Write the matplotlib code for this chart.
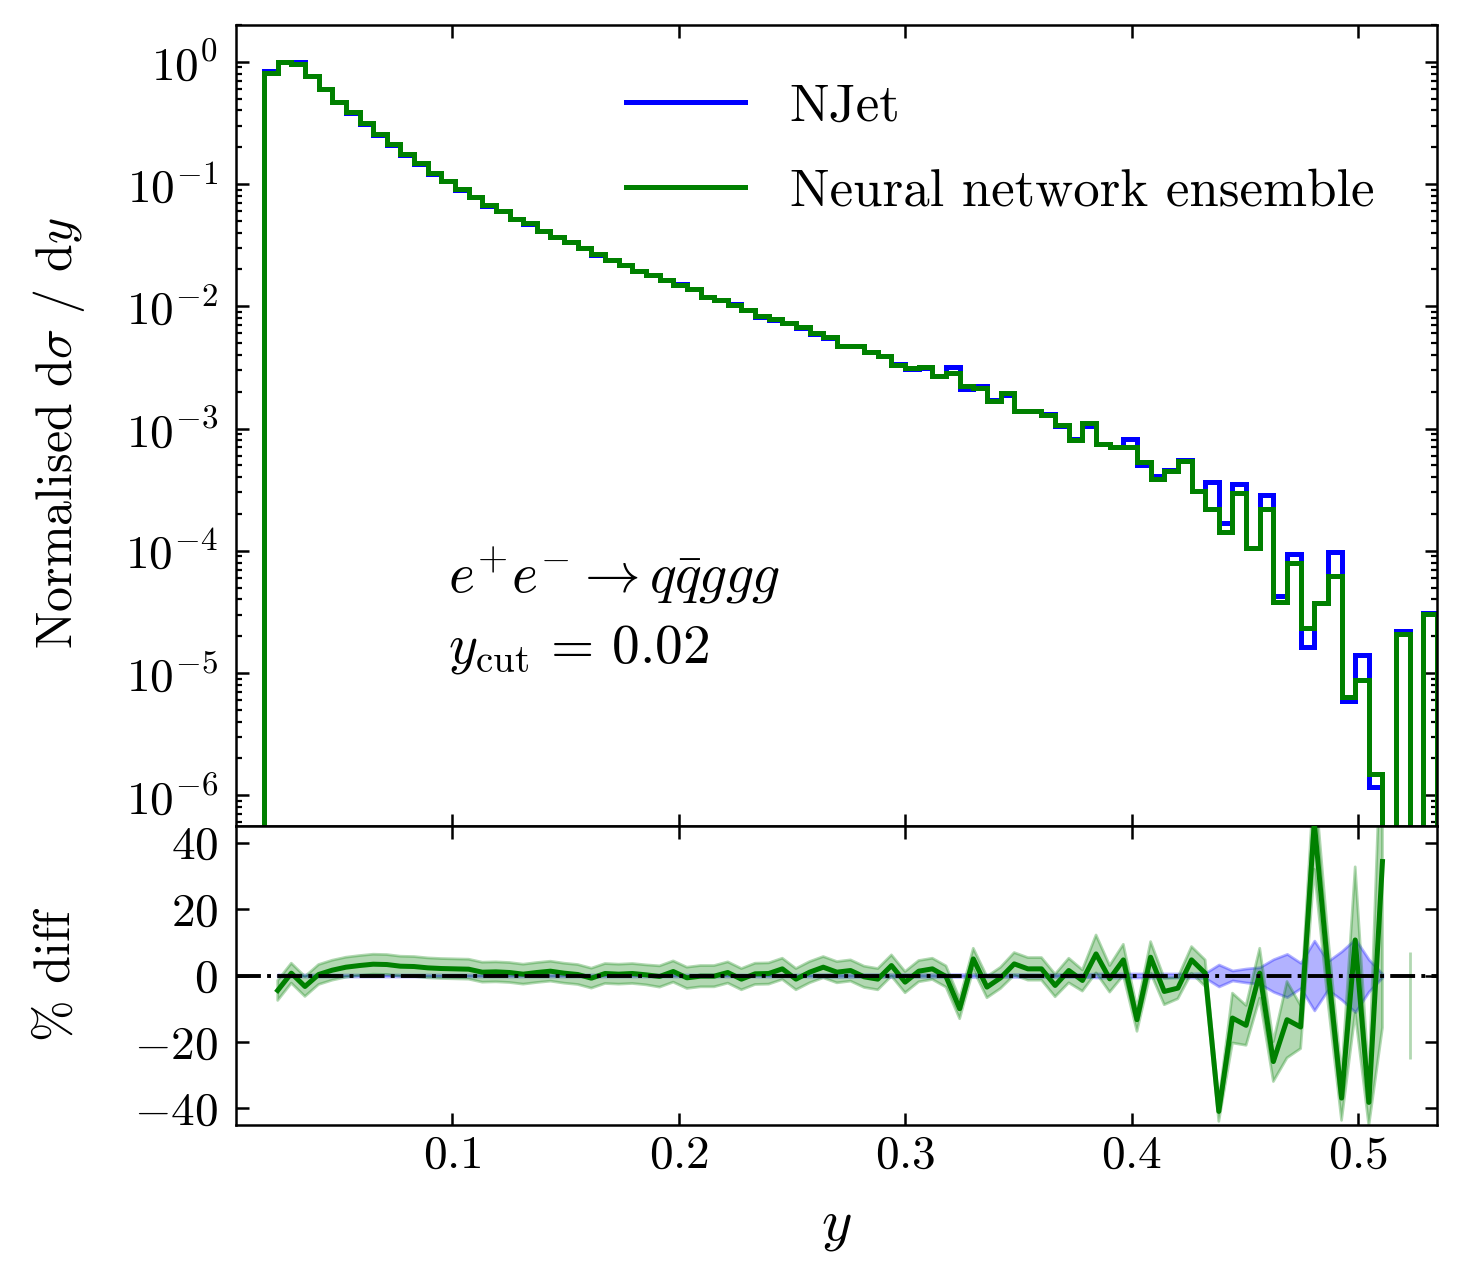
import numpy as np
import matplotlib
matplotlib.use("Agg")
import matplotlib.pyplot as plt
from matplotlib.lines import Line2D

# binning in y (86 bins)
y_edges = np.linspace(0.0170, 0.5347, 87)

# normalised d sigma / dy, NJet
njet = [0.84, 1.00, 0.99, 0.77, 0.60, 0.465, 0.38, 0.31, 0.252, 0.209,
        0.173, 0.146, 0.121, 0.105, 0.090, 0.078, 0.0665, 0.060, 0.0515, 0.0475,
        0.041, 0.037, 0.0336, 0.0298, 0.0265, 0.0239, 0.0218, 0.0195, 0.0181, 0.0163,
        0.0151, 0.0138, 0.0120, 0.0112, 0.0104, 0.00928, 0.00822, 0.00771, 0.00732, 0.00665,
        0.0059, 0.00551, 0.0047, 0.00471, 0.00424, 0.00391, 0.00335, 0.00308, 0.00314, 0.00268,
        0.00316, 0.0021, 0.00221, 0.00171, 0.00187, 0.00138, 0.00138, 0.00132, 0.00104, 0.00082,
        0.00104, 0.00075, 0.0007, 0.00082, 0.0005, 0.00041, 0.00046, 0.00055, 0.00031, 0.000368,
        0.00017, 0.00035, 0.000105, 0.000286, 4.3e-5, 9.4e-5, 1.63e-5, 3.75e-5, 9.72e-5, 5.9e-6,
        1.39e-5, 1.17e-6, 0.0, 2.2e-5, 0.0, 3.1e-5]

# normalised d sigma / dy, neural network ensemble
nn = [0.81, 1.00, 0.96, 0.76, 0.598, 0.473, 0.385, 0.316, 0.256, 0.212,
      0.176, 0.148, 0.123, 0.106, 0.091, 0.0787, 0.0677, 0.0605, 0.0517, 0.048,
      0.0415, 0.0371, 0.0337, 0.0297, 0.0267, 0.0240, 0.0219, 0.0195, 0.0181, 0.0165,
      0.0150, 0.0138, 0.0120, 0.0113, 0.0103, 0.00933, 0.00827, 0.00787, 0.00724, 0.00672,
      0.00605, 0.00557, 0.00476, 0.0047, 0.0042, 0.00394, 0.00331, 0.0031, 0.00316, 0.00267,
      0.00283, 0.00221, 0.00213, 0.00169, 0.00195, 0.0014, 0.0014, 0.00128, 0.00106, 0.00081,
      0.0011, 0.00074, 0.00071, 0.00071, 0.00053, 0.000387, 0.000447, 0.000547, 0.000311, 0.000219,
      0.000141, 0.000296, 0.000105, 0.00022, 3.8e-5, 7.89e-5, 2.34e-5, 3.72e-5, 6.16e-5, 6.3e-6,
      8.7e-6, 1.5e-6, 0.0, 2.1e-5, 0.0, 3.05e-5]

nan = np.nan
# % difference of the ensemble w.r.t. NJet
pct_diff = [-4.5, 0.7, -3.3, 0.3, 1.6, 2.5, 3.0, 3.4, 3.3, 2.8,
            2.7, 2.3, 2.1, 2.0, 1.9, 1.0, 1.1, 0.9, 0.4, 0.9,
            1.3, 0.7, 0.3, -0.8, 0.6, 0.4, 0.6, 0.2, -0.3, 1.2,
            -0.7, -0.2, -0.2, 0.9, -1.1, 0.5, 0.6, 2.0, -1.1, 1.0,
            2.5, 1.0, 1.5, -0.4, -1.1, 3.0, -2.0, 1.3, 2.0, -0.3,
            -10.0, 5.0, -3.5, -0.7, 3.5, 2.0, 2.0, -3.0, 1.5, -1.5,
            6.5, -1.0, 4.7, -13.3, 5.5, -4.8, -3.8, 4.7, 0.7, -40.9,
            -12.8, -15.0, 0.7, -25.9, -13.3, -15.5, 46.0, 2.0, -36.9, 10.7,
            -38.2, 34.3, nan, -9.0, nan, nan]

# ensemble uncertainty band (half width, %)
nn_err = [3.0, 3.0, 3.0, 3.0, 3.0, 3.0, 3.0, 3.0, 3.0, 3.0,
          3.0, 3.0, 3.0, 3.0, 3.0, 3.0, 3.0, 3.0, 3.0, 3.0,
          3.0, 3.0, 3.0, 3.0, 3.0, 3.0, 3.0, 3.0, 3.2, 3.2,
          3.2, 3.2, 3.2, 3.2, 3.2, 3.2, 3.2, 3.2, 3.2, 3.2,
          3.2, 3.2, 3.2, 3.2, 3.2, 3.2, 3.2, 3.2, 3.2, 3.2,
          3.0, 3.2, 3.2, 3.2, 3.4, 3.4, 3.4, 3.4, 3.7, 3.2,
          5.7, 4.0, 4.7, 3.5, 4.7, 4.0, 3.2, 4.0, 4.0, 3.0,
          7.5, 6.0, 7.5, 6.0, 11.5, 6.5, 14.0, 10.0, 6.7, 22.0,
          7.0, 50.0, nan, 16.0, nan, nan]

# NJet uncertainty band (half width, %)
njet_err = [0.3, 0.3, 0.3, 0.3, 0.3, 0.3, 0.3, 0.3, 0.3, 0.3,
            0.3, 0.3, 0.3, 0.3, 0.3, 0.3, 0.3, 0.3, 0.3, 0.3,
            0.3, 0.3, 0.3, 0.3, 0.3, 0.3, 0.3, 0.3, 0.3, 0.3,
            0.3, 0.3, 0.3, 0.3, 0.3, 0.3, 0.3, 0.3, 0.3, 0.3,
            0.4, 0.4, 0.4, 0.4, 0.4, 0.4, 0.4, 0.4, 0.4, 0.4,
            0.4, 0.4, 0.4, 0.4, 0.4, 0.4, 0.4, 0.4, 0.4, 0.4,
            0.6, 0.6, 0.6, 0.6, 0.6, 0.6, 0.6, 0.6, 0.75, 3.3,
            1.5, 2.1, 2.5, 4.9, 6.5, 3.8, 10.5, 4.3, 7.3, 11.0,
            4.8, 0.5, nan, nan, nan, nan]

#フォント
plt.rcParams['font.family'] = 'serif'
plt.rcParams['font.serif'] = ['cmr10']
plt.rcParams['mathtext.fontset'] = 'cm'
plt.rcParams['axes.formatter.use_mathtext'] = True
plt.rcParams['axes.unicode_minus'] = True
plt.rcParams['axes.linewidth'] = 0.9
plt.rcParams['xtick.direction'] = 'in'
plt.rcParams['ytick.direction'] = 'in'

fig = plt.figure(figsize=(7.305, 6.385), dpi=200)
ax1 = fig.add_axes([0.1615, 0.3532, 0.8221, 0.6272])
ax2 = fig.add_axes([0.1615, 0.1190, 0.8221, 0.2342], sharex=ax1)

centres = 0.5 * (y_edges[1:] + y_edges[:-1])

# top panel: histograms
ax1.set_yscale('log')
ax1.hist(centres, bins=y_edges, weights=njet, histtype='step', color='blue', lw=1.8)
ax1.hist(centres, bins=y_edges, weights=nn, histtype='step', color='green', lw=1.8)
ax1.set_ylim(5.6e-7, 2.0)
ax1.set_xlim(0.0046, y_edges[-1])
ax1.set_ylabel(r'Normalised d$\sigma$ / d$y$', fontsize=18)
ax1.yaxis.set_label_coords(-0.124, 0.49)

handles = [Line2D([], [], color='blue', lw=1.8), Line2D([], [], color='green', lw=1.8)]
ax1.legend(handles, ['NJet', 'Neural network ensemble'], loc='upper right', frameon=False,
           fontsize=19, handlelength=2.25, handletextpad=0.85, labelspacing=0.72,
           borderaxespad=0.6, bbox_to_anchor=(0.9916, 0.9925))

ax1.text(0.1765, 0.313, r'$e^{+}e^{-}\to q\bar{q}ggg$', transform=ax1.transAxes,
         fontsize=20, va='center', ha='left')
ax1.text(0.1765, 0.22, r'$y_{\rm cut}\,=\,0.02$', transform=ax1.transAxes,
         fontsize=20, va='center', ha='left')

# bottom panel: % diff
xr = y_edges[1:]
pd_arr = np.array(pct_diff)
nn_e = np.array(nn_err)
nj_e = np.array(njet_err)
ax2.fill_between(xr, -nj_e, nj_e, color='blue', alpha=0.3, zorder=1)
ax2.fill_between(xr, pd_arr - nn_e, pd_arr + nn_e, color='green', alpha=0.3, zorder=2)
ax2.plot(xr, pd_arr, color='green', lw=1.8, zorder=3)
ax2.axhline(0, color='black', ls='-.', lw=1.4, zorder=4)
ax2.set_ylim(-45, 45)
ax2.set_yticks([-40, -20, 0, 20, 40])
ax2.set_xticks([0.1, 0.2, 0.3, 0.4, 0.5])
ax2.set_ylabel('% diff', fontsize=18)
ax2.yaxis.set_label_coords(-0.130, 0.5)
ax2.set_xlabel(r'$y$', fontsize=21, labelpad=9)

for ax in (ax1, ax2):
    ax.tick_params(which='both', top=True, right=True, labelsize=17)
    ax.tick_params(which='major', length=4.5, width=0.9)
    ax.tick_params(which='minor', length=2.3, width=0.8)
    ax.tick_params(axis='y', pad=6.5)
ax1.tick_params(axis='x', labelbottom=False)
ax2.minorticks_off()

fig.savefig('out.png', dpi=200)
